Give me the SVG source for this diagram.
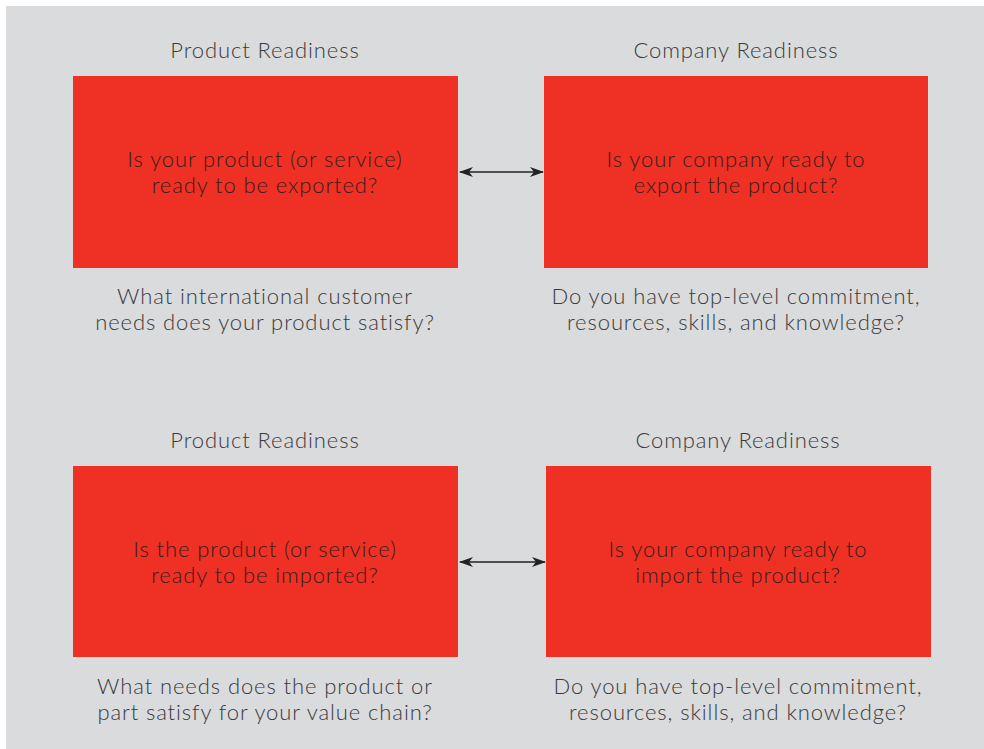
<svg xmlns="http://www.w3.org/2000/svg" width="984" height="749" viewBox="0 0 984 749">
<style>
.t{font-family:Lato,"Open Sans","Liberation Sans",sans-serif;font-size:22px;letter-spacing:0.9px;fill:#3a3a3a;text-anchor:middle;font-weight:300}
.bt{fill:#3c1c18}
.box{fill:#EE3124}
.c{stroke:#222;stroke-width:1.5;fill:none}
</style>
<defs>
<marker id="ah" viewBox="0 0 14 10" refX="13" refY="5" markerWidth="14" markerHeight="10" markerUnits="userSpaceOnUse" orient="auto-start-reverse">
<path d="M0,0 L14,5 L0,10 L4,5 Z" fill="#222"/>
</marker>
</defs>
<rect x="6" y="6" width="978" height="743" fill="#DADBDD"/>
<g id="product-export">
<text class="t" x="265" y="58">Product Readiness</text>
<rect class="box" x="73" y="76" width="385" height="192"/>
<text class="t bt" x="265" y="167">Is your product (or service)</text>
<text class="t bt" x="265" y="193">ready to be exported?</text>
<text class="t" x="265" y="304">What international customer</text>
<text class="t" x="265" y="330">needs does your product satisfy?</text>
</g>
<g id="company-export">
<text class="t" x="736" y="58">Company Readiness</text>
<rect class="box" x="544" y="76" width="384" height="192"/>
<text class="t bt" x="736" y="167">Is your company ready to</text>
<text class="t bt" x="736" y="193">export the product?</text>
<text class="t" x="736" y="304">Do you have top-level commitment,</text>
<text class="t" x="736" y="330">resources, skills, and knowledge?</text>
</g>
<g id="product-import">
<text class="t" x="265" y="448">Product Readiness</text>
<rect class="box" x="73" y="466" width="385" height="191"/>
<text class="t bt" x="265" y="557">Is the product (or service)</text>
<text class="t bt" x="265" y="583">ready to be imported?</text>
<text class="t" x="265" y="694">What needs does the product or</text>
<text class="t" x="265" y="720">part satisfy for your value chain?</text>
</g>
<g id="company-import">
<text class="t" x="738" y="448">Company Readiness</text>
<rect class="box" x="546" y="466" width="385" height="191"/>
<text class="t bt" x="738" y="557">Is your company ready to</text>
<text class="t bt" x="738" y="583">import the product?</text>
<text class="t" x="738" y="694">Do you have top-level commitment,</text>
<text class="t" x="738" y="720">resources, skills, and knowledge?</text>
</g>
<g id="connectors">
<line class="c" x1="460" y1="172" x2="543" y2="172" marker-start="url(#ah)" marker-end="url(#ah)"/>
<line class="c" x1="460" y1="562" x2="545" y2="562" marker-start="url(#ah)" marker-end="url(#ah)"/>
</g>
</svg>
